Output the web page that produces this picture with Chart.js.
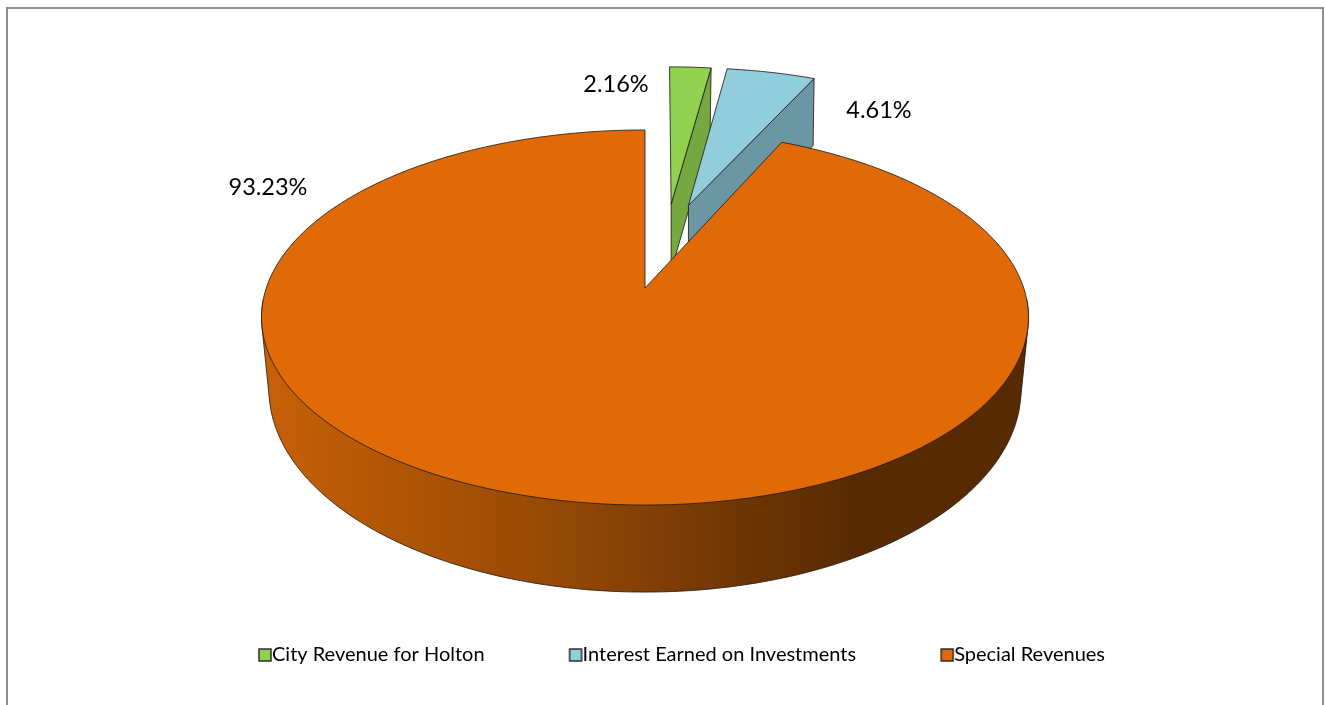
<!DOCTYPE html>
<html>
<head>
<meta charset="utf-8">
<style>
html,body{margin:0;padding:0;background:#fff;overflow:hidden}
canvas{display:block}
</style>
<script src="https://cdn.jsdelivr.net/npm/chart.js@4"></script>
</head>
<body>
<canvas id="c" width="1325" height="705"></canvas>
<script>
const categories = ['City Revenue for Holton', 'Interest Earned on Investments', 'Special Revenues'];
const seriesValues = [2.16, 4.61, 93.23];
const valueLabels = ['2.16%', '4.61%', '93.23%'];

const topColors = ['#92d050', '#92cddc', '#e16a08'];
const wallColors = ['#75a840', '#6a97a3', '#e16a08'];
const explode = [[0.08, -0.493], [0.132, -0.486], [0, 0]];
const apexNudge = [-2, -3, 0];
const labelCenters = [[616, 84], [879, 110], [268, 187]];
const FONT = 'Lato, "Open Sans", sans-serif';

const K = 0.1573, CX = 645;
const topPlane = { y0: 288, a: 378.7, b: 182.9 };
const botPlane = { y0: 357.7, a: 371.3, b: 197.5 };
const CUT_DROP = [-1, 67];

function project(plane, u, v) {
  const w = 1 - K * v;
  return [CX + plane.a * u / w, plane.y0 + plane.b * v / w];
}
// theta: clockwise from 12 o'clock; e: explode offset in disc coordinates
function rim(plane, theta, e) {
  return project(plane, Math.sin(theta) + e[0], -Math.cos(theta) + e[1]);
}
function hull(points) {
  const p = points.slice().sort((a, b) => a[0] - b[0] || a[1] - b[1]);
  const cross = (o, a, b) => (a[0] - o[0]) * (b[1] - o[1]) - (a[1] - o[1]) * (b[0] - o[0]);
  const lo = [], up = [];
  for (const q of p) { while (lo.length > 1 && cross(lo[lo.length - 2], lo[lo.length - 1], q) <= 0) lo.pop(); lo.push(q); }
  for (const q of p.reverse()) { while (up.length > 1 && cross(up[up.length - 2], up[up.length - 1], q) <= 0) up.pop(); up.push(q); }
  return lo.slice(0, -1).concat(up.slice(0, -1));
}
function poly(ctx, pts) {
  ctx.beginPath();
  pts.forEach((p, i) => i ? ctx.lineTo(p[0], p[1]) : ctx.moveTo(p[0], p[1]));
  ctx.closePath();
}
const OUTLINE = 'rgba(35,30,25,0.85)';

const pie3d = {
  id: 'pie3d',
  beforeDraw(chart) {
    const ctx = chart.ctx;
    ctx.save();
    ctx.fillStyle = '#fff';
    ctx.fillRect(0, 0, chart.width, chart.height);
    ctx.strokeStyle = '#8f8f8f';
    ctx.lineWidth = 2;
    ctx.strokeRect(7, 8, 1316, 800);
    ctx.restore();
  },
  beforeDatasetsDraw(chart) {
    const ctx = chart.ctx;
    const arcs = chart.getDatasetMeta(0).data;
    ctx.save();
    ctx.lineJoin = 'round';
    ctx.lineWidth = 1;
    arcs.forEach((arc, i) => {
      const a0 = arc.startAngle + Math.PI / 2, a1 = arc.endAngle + Math.PI / 2;
      const e = explode[i];
      const exploded = e[0] !== 0 || e[1] !== 0;
      const steps = Math.max(6, Math.ceil((a1 - a0) * 60));
      const rimTop = [];
      for (let s = 0; s <= steps; s++) rimTop.push(rim(topPlane, a0 + (a1 - a0) * s / steps, e));
      const apexT = project(topPlane, e[0], e[1]);
      apexT[0] += apexNudge[i];
      if (exploded) {
        // cut face on the closing edge of the wedge
        const endT = rim(topPlane, a1, e);
        const wall = [apexT, endT,
          [endT[0] + CUT_DROP[0], endT[1] + CUT_DROP[1]],
          [apexT[0], apexT[1] + CUT_DROP[1]]];
        poly(ctx, wall);
        ctx.fillStyle = wallColors[i];
        ctx.strokeStyle = OUTLINE;
        ctx.fill(); ctx.stroke();
      } else {
        // outer wall of the large slice, front half only
        const pts = [];
        const from = Math.PI * 0.52, to = Math.PI * 1.48;
        for (let s = 0; s <= 240; s++) {
          const t = from + (to - from) * s / 240;
          pts.push(rim(topPlane, t, e), rim(botPlane, t, e));
        }
        const g = ctx.createLinearGradient(262, 0, 1028, 0);
        g.addColorStop(0, '#c86108');
        g.addColorStop(0.2, '#ad5405');
        g.addColorStop(0.45, '#8c4405');
        g.addColorStop(0.62, '#6f3603');
        g.addColorStop(0.78, '#582a02');
        g.addColorStop(1, '#582a02');
        poly(ctx, hull(pts));
        ctx.fillStyle = g;
        ctx.strokeStyle = OUTLINE;
        ctx.fill(); ctx.stroke();
      }
      poly(ctx, [apexT].concat(rimTop));
      ctx.fillStyle = topColors[i];
      ctx.strokeStyle = OUTLINE;
      ctx.fill(); ctx.stroke();
    });
    ctx.restore();
    return false;
  },
  afterDraw(chart) {
    const ctx = chart.ctx;
    ctx.save();
    ctx.font = '23.5px ' + FONT;
    ctx.fillStyle = '#000';
    ctx.textAlign = 'center';
    ctx.textBaseline = 'middle';
    valueLabels.forEach((t, i) => ctx.fillText(t, labelCenters[i][0], labelCenters[i][1]));
    ctx.restore();
  }
};

function swatch(color) {
  const c = document.createElement('canvas');
  c.width = 22; c.height = 14;
  const x = c.getContext('2d');
  x.fillStyle = color;
  x.fillRect(8, 1, 12, 12);
  x.strokeStyle = '#222';
  x.lineWidth = 1.4;
  x.strokeRect(8, 1, 12, 12);
  return c;
}

new Chart(document.getElementById('c'), {
  type: 'pie',
  data: {
    labels: categories,
    datasets: [{ data: seriesValues, backgroundColor: topColors, borderWidth: 0 }]
  },
  options: {
    responsive: false,
    animation: false,
    layout: { padding: { left: 42, bottom: 30 } },
    plugins: {
      tooltip: { enabled: false },
      title: { display: false },
      legend: {
        display: true,
        position: 'bottom',
        labels: {
          usePointStyle: true,
          pointStyleWidth: 0.01,
          padding: 88,
          color: '#000',
          font: { family: FONT, size: 20 },
          generateLabels(chart) {
            return categories.map((t, i) => ({
              text: t, index: i, fillStyle: topColors[i], strokeStyle: '#222',
              lineWidth: 1, pointStyle: swatch(topColors[i]), hidden: false, fontColor: '#000'
            }));
          }
        }
      }
    }
  },
  plugins: [pie3d]
});
</script>
</body>
</html>
